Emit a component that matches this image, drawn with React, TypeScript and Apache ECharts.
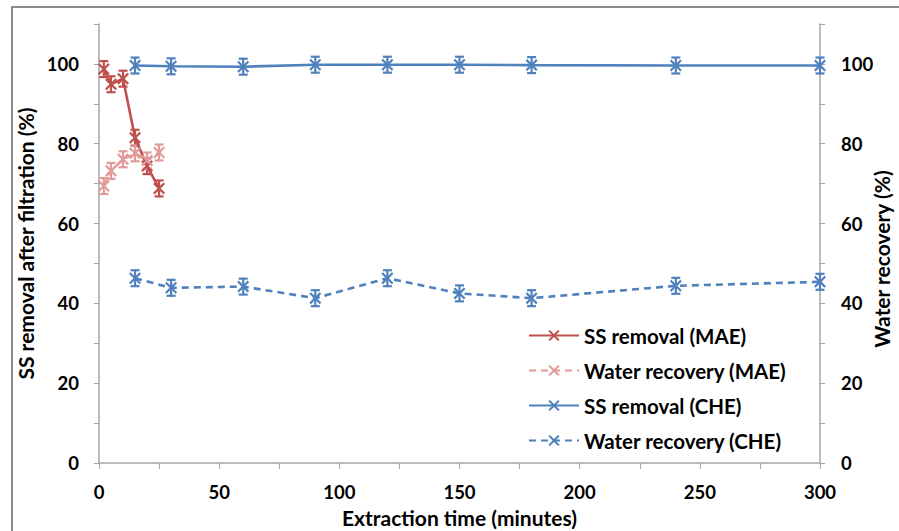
import React, { useEffect, useRef } from "react";
import * as echarts from "echarts";

const maeTime = [2, 5, 10, 15, 20, 25];
const maeSS = [98.7, 94.9, 96.3, 81.5, 74.4, 68.8];
const maeSSErr = [2, 2, 2, 2, 2, 2];
const maeWater = [69.4, 73.2, 76.1, 77.6, 75.8, 77.8];
const maeWaterErr = [2, 2, 2, 2, 2, 2];

const cheTime = [15, 30, 60, 90, 120, 150, 180, 240, 300];
const cheSS = [99.6, 99.4, 99.3, 99.8, 99.8, 99.8, 99.7, 99.6, 99.6];
const cheSSErr = [2, 2, 2, 2, 2, 2, 2, 2, 2];
const cheWater = [46.3, 43.9, 44.2, 41.3, 46.3, 42.5, 41.3, 44.4, 45.4];
const cheWaterErr = [2, 2, 2, 2, 2, 2, 2, 2, 2];

const seriesNames = [
  "SS removal (MAE)",
  "Water recovery (MAE)",
  "SS removal (CHE)",
  "Water recovery (CHE)",
];
const rightAxisName = "Water recovery (%)";

const RED = "#C0504D";
const PINK = "#E19A98";
const BLUE = "#4F81BD";

const XPATH =
  "path://M0,1.3 L1.3,0 L5,3.7 L8.7,0 L10,1.3 L6.3,5 L10,8.7 L8.7,10 L5,6.3 L1.3,10 L0,8.7 L3.7,5 Z";

const FONT = "Lato";

function zip(xs: number[], ys: number[]) {
  return xs.map((x, i) => [x, ys[i]]);
}

function errSeries(xs: number[], ys: number[], es: number[], color: string, yAxisIndex: number) {
  return {
    type: "custom",
    yAxisIndex,
    silent: true,
    z: 3,
    data: xs.map((x, i) => [x, ys[i] - es[i], ys[i] + es[i]]),
    renderItem: (params: any, api: any) => {
      const lo = api.coord([api.value(0), api.value(1)]);
      const hi = api.coord([api.value(0), api.value(2)]);
      const w = 4.5;
      const style = { stroke: color, lineWidth: 2.2 };
      return {
        type: "group",
        children: [
          { type: "line", shape: { x1: lo[0], y1: lo[1], x2: hi[0], y2: hi[1] }, style },
          { type: "line", shape: { x1: lo[0] - w, y1: lo[1], x2: lo[0] + w, y2: lo[1] }, style },
          { type: "line", shape: { x1: hi[0] - w, y1: hi[1], x2: hi[0] + w, y2: hi[1] }, style },
        ],
      };
    },
  };
}

function lineSeries(name: string, xs: number[], ys: number[], color: string, dashed: boolean, yAxisIndex: number) {
  return {
    name,
    type: "line",
    yAxisIndex,
    data: zip(xs, ys),
    symbol: XPATH,
    symbolSize: 12,
    showSymbol: true,
    z: 4,
    itemStyle: { color },
    lineStyle: { color, width: 2.6, type: dashed ? [7, 5] : "solid" },
  };
}

export default function App() {
  const ref = useRef<HTMLDivElement>(null);
  useEffect(() => {
    if (!ref.current) return;
    const chart = echarts.init(ref.current, null, { renderer: "svg" });
    const labelFmt = (v: number) => (v % 20 === 0 && v <= 100 ? String(v) : "");
    const tickFont = { fontFamily: FONT, fontWeight: "bold", fontSize: 18.5, color: "#000" };
    const nameFont = { fontFamily: FONT, fontWeight: "bold", fontSize: 21, color: "#000" };
    const yAxisCommon = {
      type: "value",
      min: 0,
      max: 110,
      interval: 10,
      splitLine: { show: false },
      axisLine: { show: true, lineStyle: { color: "#A6A6A6", width: 1.5 } },
      axisTick: { show: true, length: 5, lineStyle: { color: "#A6A6A6" } },
      nameLocation: "middle",
      nameTextStyle: nameFont,
    };
    chart.setOption({
      animation: false,
      backgroundColor: "#fff",
      textStyle: { fontFamily: FONT },
      grid: { left: 99, right: 79, top: 24, bottom: 68, containLabel: false, outerBoundsMode: "none" },
      graphic: [
        {
          type: "rect",
          shape: { x: 12, y: 7, width: 1000, height: 1000 },
          style: { fill: "none", stroke: "#8C8C8C", lineWidth: 2 },
          silent: true,
        },
        {
          type: "text",
          x: 881,
          y: 259,
          rotation: Math.PI / 2,
          style: {
            text: rightAxisName,
            fontFamily: FONT,
            fontWeight: "bold",
            fontSize: 21,
            fill: "#000",
            align: "center",
            verticalAlign: "middle",
          },
          silent: true,
        },
      ],
      legend: {
        data: seriesNames,
        orient: "vertical",
        left: 523,
        top: 320,
        itemWidth: 50,
        itemHeight: 14,
        itemGap: 14,
        textStyle: { fontFamily: FONT, fontWeight: "bold", fontSize: 20.5, color: "#000" },
      },
      xAxis: {
        type: "value",
        min: 0,
        max: 300,
        interval: 50,
        name: "Extraction time (minutes)",
        nameLocation: "middle",
        nameGap: 44,
        nameTextStyle: nameFont,
        splitLine: { show: false },
        axisLine: { onZero: false, lineStyle: { color: "#A6A6A6", width: 1.5 } },
        axisTick: { length: 6, lineStyle: { color: "#A6A6A6" } },
        minorTick: { show: true, splitNumber: 2, length: 6, lineStyle: { color: "#A6A6A6" } },
        axisLabel: { ...tickFont, margin: 19 },
      },
      yAxis: [
        {
          ...yAxisCommon,
          position: "left",
          name: "SS removal after filtration (%)",
          nameGap: 61,
          axisLabel: { ...tickFont, margin: 20, formatter: labelFmt },
        },
        {
          ...yAxisCommon,
          position: "right",
          axisLabel: { ...tickFont, margin: 21, formatter: labelFmt },
        },
      ],
      series: [
        errSeries(maeTime, maeSS, maeSSErr, RED, 0),
        errSeries(maeTime, maeWater, maeWaterErr, PINK, 1),
        errSeries(cheTime, cheSS, cheSSErr, BLUE, 0),
        errSeries(cheTime, cheWater, cheWaterErr, BLUE, 1),
        lineSeries(seriesNames[0], maeTime, maeSS, RED, false, 0),
        lineSeries(seriesNames[1], maeTime, maeWater, PINK, true, 1),
        lineSeries(seriesNames[2], cheTime, cheSS, BLUE, false, 0),
        lineSeries(seriesNames[3], cheTime, cheWater, BLUE, true, 1),
      ],
    });
    return () => chart.dispose();
  }, []);
  return (
    <div
      ref={ref}
      style={{ position: "fixed", left: 0, top: 0, width: 899, height: 531 }}
    />
  );
}
